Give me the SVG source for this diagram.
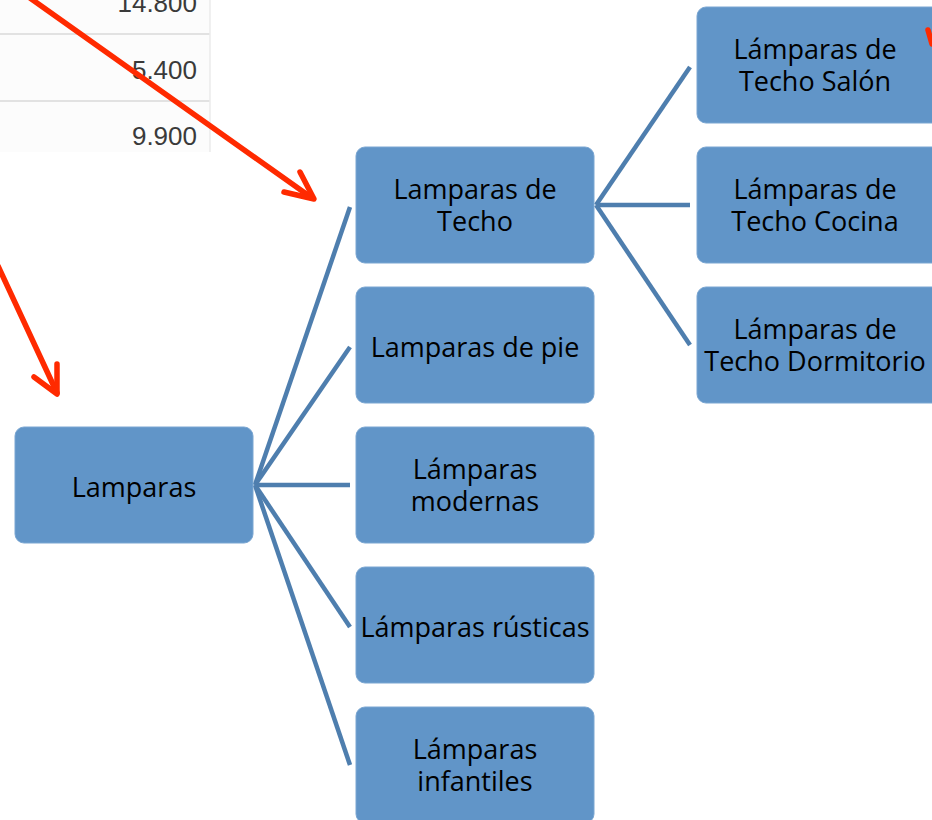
<svg xmlns="http://www.w3.org/2000/svg" width="932" height="820" viewBox="0 0 932 820">
<style>
.node rect{fill:#6195C8;stroke:#7AA6D2;stroke-width:1}
.node text{font-family:"Open Sans","Noto Sans",sans-serif;font-size:27px;fill:#000;text-anchor:middle}
.conn line{stroke:#4E7EAE;stroke-width:4.5;stroke-linecap:butt}
.num{font-family:"Liberation Sans",Arial,sans-serif;font-size:26px;fill:#3A3A3A;text-anchor:end}
.red{stroke:#FF2A00;stroke-width:5.5;fill:none;stroke-linecap:round;stroke-linejoin:round}
</style>
<rect width="932" height="820" fill="#fff"/>
<g id="table">
<rect x="0" y="0" width="210" height="152" fill="#FCFCFC"/>
<line x1="0" y1="34" x2="210" y2="34" stroke="#E2E2E2" stroke-width="2"/>
<line x1="0" y1="101" x2="210" y2="101" stroke="#E2E2E2" stroke-width="2"/>
<line x1="210" y1="0" x2="210" y2="152" stroke="#EBEBEB" stroke-width="1.5"/>
<text class="num" x="197" y="12">14.800</text>
<text class="num" x="197" y="79">5.400</text>
<text class="num" x="197" y="145">9.900</text>
</g>
<g id="connectors" class="conn">
<line x1="255" y1="485" x2="350" y2="207"/>
<line x1="255" y1="485" x2="350" y2="347"/>
<line x1="255" y1="485" x2="350" y2="485"/>
<line x1="255" y1="485" x2="350" y2="627"/>
<line x1="255" y1="485" x2="350" y2="765"/>
<line x1="596" y1="205" x2="690" y2="67"/>
<line x1="596" y1="205" x2="690" y2="205"/>
<line x1="596" y1="205" x2="690" y2="345"/>
</g>
<g id="n-lamparas" class="node"><rect x="15" y="427" width="238" height="116" rx="9"/><text x="134" y="497">Lamparas</text></g>
<g id="n-techo" class="node"><rect x="356" y="147" width="238" height="116" rx="9"/><text x="475" y="199">Lamparas de<tspan x="475" dy="32">Techo</tspan></text></g>
<g id="n-pie" class="node"><rect x="356" y="287" width="238" height="116" rx="9"/><text x="475" y="357">Lamparas de pie</text></g>
<g id="n-modernas" class="node"><rect x="356" y="427" width="238" height="116" rx="9"/><text x="475" y="479">Lámparas<tspan x="475" dy="32">modernas</tspan></text></g>
<g id="n-rusticas" class="node"><rect x="356" y="567" width="238" height="116" rx="9"/><text x="475" y="637">Lámparas rústicas</text></g>
<g id="n-infantiles" class="node"><rect x="356" y="707" width="238" height="116" rx="9"/><text x="475" y="759">Lámparas<tspan x="475" dy="32">infantiles</tspan></text></g>
<g id="n-salon" class="node"><rect x="697" y="7" width="245" height="116" rx="9"/><text x="815" y="59">Lámparas de<tspan x="815" dy="32">Techo Salón</tspan></text></g>
<g id="n-cocina" class="node"><rect x="697" y="147" width="245" height="116" rx="9"/><text x="815" y="199">Lámparas de<tspan x="815" dy="32">Techo Cocina</tspan></text></g>
<g id="n-dormitorio" class="node"><rect x="697" y="287" width="245" height="116" rx="9"/><text x="815" y="339">Lámparas de<tspan x="815" dy="32">Techo Dormitorio</tspan></text></g>
<g id="red-arrows">
<path class="red" d="M30 -2 L312 198"/>
<path class="red" d="M284 192 L314 199 L300 172"/>
<path class="red" d="M-2 266 L57 393"/>
<path class="red" d="M34 377 L57 394 L57 364"/>
<path class="red" d="M928 30 L932 44"/>
</g>
</svg>
